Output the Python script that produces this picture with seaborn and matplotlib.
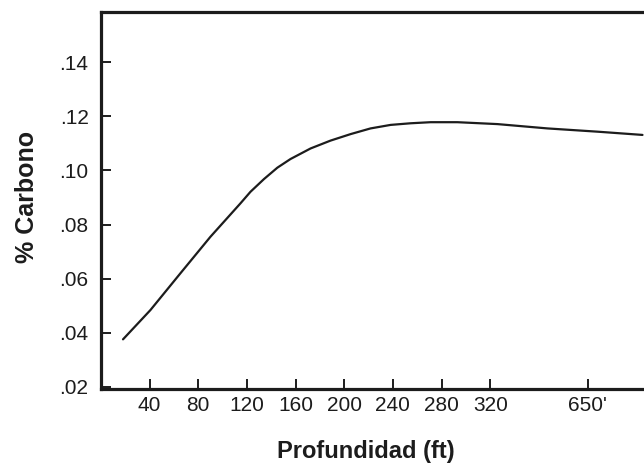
import matplotlib
matplotlib.use("Agg")
import matplotlib.pyplot as plt
import seaborn as sns
import pandas as pd

# Depth expressed as axis position (axis is broken after 320: "650'" sits at position 400)
depth_pos = [18.1, 40.6, 65.3, 90.0, 114.6, 122.9, 134.0, 145.0, 155.8, 172.3, 188.7,
             205.2, 221.6, 238.1, 254.5, 271.0, 293.0, 325.9, 367.1, 408.2, 445.2]
carbon = [0.0376, 0.0484, 0.0620, 0.0755, 0.0878, 0.0921, 0.0968, 0.1010, 0.1042, 0.1081, 0.1110,
          0.1134, 0.1155, 0.1168, 0.1174, 0.1178, 0.1178, 0.1171, 0.1155, 0.1143, 0.1131]

x_tick_pos = [40, 80, 120, 160, 200, 240, 280, 320, 400]
x_tick_labels = ["40", "80", "120", "160", "200", "240", "280", "320", "650'"]
y_ticks = [0.02, 0.04, 0.06, 0.08, 0.10, 0.12, 0.14]
y_tick_labels = [".02", ".04", ".06", ".08", ".10", ".12", ".14"]

sns.set_theme(style="white")
plt.rcParams["font.family"] = ["Liberation Sans", "DejaVu Sans"]
plt.rcParams["xtick.direction"] = "in"
plt.rcParams["ytick.direction"] = "in"

fig = plt.figure(figsize=(6.44, 4.66), dpi=100)
ax = fig.add_axes([101/644, 1 - 389/466, 1 - 101/644 + 0.002, (389 - 12)/466])

df = pd.DataFrame({"depth": depth_pos, "carbon": carbon})
sns.lineplot(data=df, x="depth", y="carbon", ax=ax, color="#1c1c1c", linewidth=1.6)

ax.set_xlim(0, 447.5)
ax.set_ylim(0.01926, 0.1585)

ax.set_xticks(x_tick_pos)
ax.set_xticklabels(x_tick_labels)
ax.set_yticks(y_ticks)
ax.set_yticklabels(y_tick_labels)

ax.tick_params(axis="both", direction="in", length=7, width=1.4, color="#1c1c1c",
               labelsize=15, labelcolor="#1c1c1c", bottom=True, left=True,
               top=False, right=False)
ax.tick_params(axis="x", pad=5)
ax.tick_params(axis="y", pad=9)

for side in ["left", "bottom", "top"]:
    ax.spines[side].set_visible(True)
    ax.spines[side].set_color("#1c1c1c")
    ax.spines[side].set_linewidth(2.3)
ax.spines["right"].set_visible(False)

ax.set_xlabel("Profundidad (ft)", fontsize=17, fontweight="bold", color="#1c1c1c")
ax.set_ylabel("% Carbono", fontsize=18, fontweight="bold", color="#1c1c1c")
ax.xaxis.set_label_coords((365 - 101) / (644 - 101), -(440 - 389) / 377)
ax.yaxis.set_label_coords(-(101 - 39) / (644 - 101), (389 - 197) / 377)

fig.savefig("out.png", dpi=100)
